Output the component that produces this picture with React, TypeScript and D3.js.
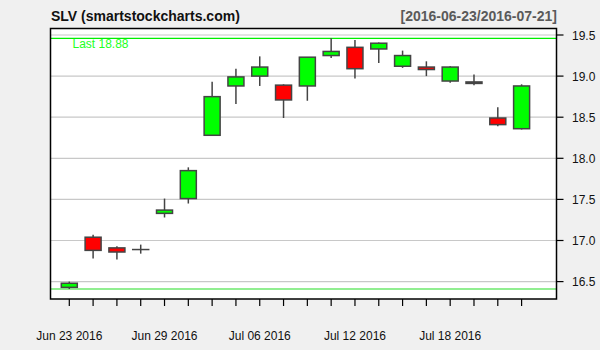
import React from "react";
import * as d3 from "d3";

const dates = [
  "2016-06-23", "2016-06-24", "2016-06-27", "2016-06-28", "2016-06-29", "2016-06-30",
  "2016-07-01", "2016-07-05", "2016-07-06", "2016-07-07", "2016-07-08", "2016-07-11",
  "2016-07-12", "2016-07-13", "2016-07-14", "2016-07-15", "2016-07-18", "2016-07-19",
  "2016-07-20", "2016-07-21",
];
const opens = [16.43, 17.04, 16.91, 16.89, 17.33, 17.51, 18.28, 18.88, 19.0, 18.89, 18.88, 19.25, 19.35, 19.33, 19.12, 19.11, 18.94, 18.92, 18.49, 18.36];
const closes = [16.48, 16.88, 16.86, 16.89, 17.37, 17.85, 18.75, 18.99, 19.11, 18.71, 19.23, 19.3, 19.09, 19.4, 19.25, 19.08, 19.11, 18.92, 18.41, 18.88];
const highs = [16.5, 17.07, 16.93, 16.95, 17.51, 17.89, 18.93, 19.09, 19.24, 18.9, 19.23, 19.46, 19.44, 19.41, 19.31, 19.18, 19.12, 19.02, 18.62, 18.9];
const lows = [16.41, 16.78, 16.77, 16.84, 17.28, 17.45, 18.27, 18.66, 18.88, 18.49, 18.7, 19.22, 18.97, 19.16, 19.1, 19.0, 18.92, 18.89, 18.39, 18.35];
const yTicks = [16.5, 17.0, 17.5, 18.0, 18.5, 19.0, 19.5];
const xLabelIdx = [0, 4, 8, 12, 16];
const xLabels = ["Jun 23 2016", "Jun 29 2016", "Jul 06 2016", "Jul 12 2016", "Jul 18 2016"];
const title = "SLV (smartstockcharts.com)";
const range = "[2016-06-23/2016-07-21]";
const lastVal = 18.88;

export default function App() {
  const W = 600, H = 350;
  const L = 50.5, R = 556.5, T = 28.5, B = 299;
  const y = d3.scaleLinear().domain([16.5, 19.5]).range([281.6, 35]);
  const x = d3.scaleLinear().domain([0, dates.length - 1]).range([69.3, 521.6]);
  const bw = 16;
  const maxHigh = d3.max(highs) as number;
  const minLow = d3.min(lows) as number;
  const font = "Arial, 'Liberation Sans', sans-serif";
  return (
    <div style={{ position: "fixed", left: 0, top: 0 }}>
      <svg width={W} height={H} style={{ display: "block" }}>
        <rect x={0} y={0} width={W} height={H} fill="#f0f0f0" />
        <rect x={L} y={T} width={R - L} height={B - T} fill="#ffffff" />
        {yTicks.map((t) => (
          <line key={"g" + t} x1={L} x2={R} y1={y(t)} y2={y(t)} stroke="#c8c8c8" strokeWidth={1.2} />
        ))}
        <line x1={L} x2={R} y1={y(maxHigh)} y2={y(maxHigh)} stroke="#00ee00" strokeWidth={1.2} />
        <line x1={L} x2={R} y1={y(minLow)} y2={y(minLow)} stroke="#22dd22" strokeWidth={1.2} />
        <text x={72.5} y={48} fontFamily={font} fontSize={12} fill="#22ff22">
          {"Last " + lastVal.toFixed(2)}
        </text>
        {dates.map((d, i) => {
          const o = opens[i], c = closes[i];
          const up = c >= o;
          const top = y(Math.max(o, c));
          const bot = y(Math.min(o, c));
          const flat = bot - top < 1;
          return (
            <g key={d}>
              <line x1={x(i)} x2={x(i)} y1={y(highs[i])} y2={y(lows[i])} stroke="#444" strokeWidth={1.5} />
              {flat ? (
                <line
                  x1={x(i) - bw / 2 - 0.75}
                  x2={x(i) + bw / 2 + 0.75}
                  y1={top}
                  y2={top}
                  stroke="#444"
                  strokeWidth={i === 3 ? 1.5 : 3}
                />
              ) : (
                <rect
                  x={x(i) - bw / 2}
                  y={top}
                  width={bw}
                  height={bot - top}
                  fill={up ? "#00ff00" : "#ff0000"}
                  stroke="#444"
                  strokeWidth={1.5}
                />
              )}
            </g>
          );
        })}
        <rect x={L} y={T} width={R - L} height={B - T} fill="none" stroke="#000" strokeWidth={1.5} />
        {dates.map((d, i) => (
          <line key={"t" + d} x1={x(i)} x2={x(i)} y1={B} y2={B + 7} stroke="#000" strokeWidth={1.2} />
        ))}
        {xLabelIdx.map((idx, k) => (
          <text key={"xl" + k} x={x(idx)} y={340} textAnchor="middle" fontFamily={font} fontSize={12} fill="#111">
            {xLabels[k]}
          </text>
        ))}
        {yTicks.map((t) => (
          <g key={"yt" + t}>
            <line x1={R} x2={R + 7} y1={y(t)} y2={y(t)} stroke="#000" strokeWidth={1.2} />
            <text x={572} y={y(t) + 4.5} fontFamily={font} fontSize={12} fill="#111">
              {t.toFixed(1)}
            </text>
          </g>
        ))}
        <text x={51} y={20.5} fontFamily={font} fontSize={14} fontWeight="bold" fill="#111">
          {title}
        </text>
        <text x={557} y={20.5} textAnchor="end" fontFamily={font} fontSize={14} fontWeight="bold" fill="#5a5a5a">
          {range}
        </text>
      </svg>
    </div>
  );
}
